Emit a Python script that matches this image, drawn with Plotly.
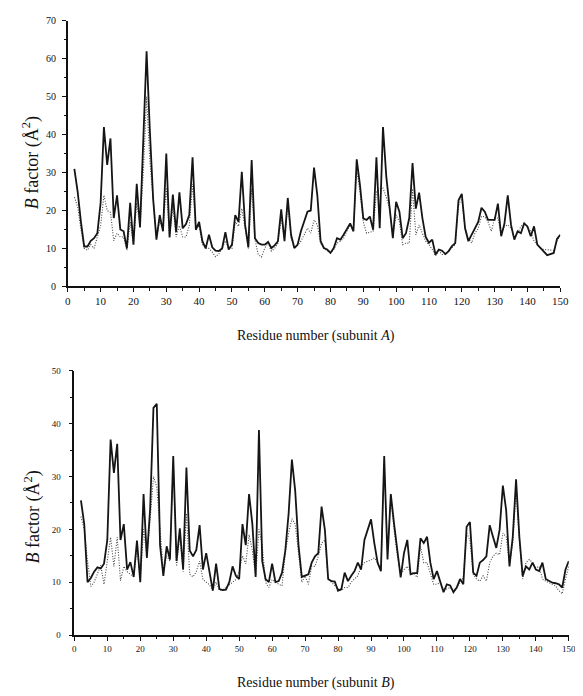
import plotly.graph_objects as go

residues = list(range(2, 151))

a_solid = [31, 25, 17, 10.5, 10.5, 12, 12.7, 14, 22,
           42, 32, 39, 18, 24, 15, 14.5, 10, 22, 11,
           27, 15.5, 40, 62, 41, 23, 12.3, 18.8, 14.5, 35,
           12.9, 24.2, 14.3, 24.8, 15.3, 16.4, 18.8, 34, 14.9, 17,
           11.9, 10, 13.6, 10.3, 9.4, 9.3, 10, 14.3, 9.7, 11,
           18.8, 17, 30.2, 16.2, 10.3, 33.3, 12.7, 11.4, 11, 11,
           11.7, 10.1, 10.8, 11.9, 20.3, 11.9, 23.3, 13.6, 10.1, 11,
           14.5, 17, 19.7, 20, 31.3, 24, 11.9, 10.1, 9.7, 8.8,
           10.1, 12.7, 12.3, 13.6, 15.3, 16.6, 14.5, 33.5, 26.6, 17.9,
           17.5, 18.4, 14.9, 34, 15.3, 42, 29, 21.4, 12.7, 22.3,
           19.7, 12.7, 14, 18, 32.5, 20.5, 24.7, 18, 13, 11.5,
           12.3, 8.4, 9.7, 9.4, 8.5, 9.3, 10.6, 11.4, 22.7, 24.4,
           15.3, 11.9, 13.6, 14.9, 17, 20.7, 19.7, 17.5, 17.5, 17.5,
           21.8, 13.2, 16.6, 24, 16.2, 12.3, 14.5, 14, 16.6, 15.8,
           13.2, 15.8, 11, 10.1, 9.3, 8.2, 8.5, 8.8, 12.5, 13.6]

a_dotted = [23.5, 21, 15, 10, 9.5, 11, 10, 13, 16,
            24, 20, 19.5, 12, 14, 13, 13, 9.5, 17, 11,
            22, 16, 30, 50, 33, 22, 13, 17, 15, 26,
            13, 21, 13, 16, 13, 13, 16, 27, 15, 16,
            11, 10, 10, 9, 7.8, 8.5, 10, 12, 10, 10,
            17, 15.8, 20.5, 15.3, 10, 25.7, 12.3, 8.4, 7.7, 10.1,
            11.4, 9.3, 10, 11.4, 18, 12.7, 21.4, 12.7, 10, 10.8,
            11.9, 13.6, 15.3, 14, 17.5, 16.2, 11.4, 10, 9.4, 8.8,
            9.7, 11.4, 11.9, 12.7, 14.5, 16.2, 14.9, 30.9, 24.8, 17,
            14, 14.3, 14.5, 24.8, 25.7, 25.9, 23.5, 20.5, 13.6, 18.8,
            17, 11, 11.4, 11.4, 25.7, 13.6, 16.2, 14, 11.9, 11,
            9.7, 8, 9.3, 8.4, 8.4, 9.3, 10.1, 11, 21.4, 23.1,
            15.3, 12.7, 11.4, 14, 15.3, 18.4, 18.4, 17, 14.5, 18,
            18, 13.6, 15.8, 16.2, 15.3, 12.7, 14, 15.8, 16.6, 15.5,
            14.5, 11.9, 11, 10.1, 9.7, 9.7, 9.5, 9.5, 11.9, 13.6]

b_solid = [25.5, 21, 10, 10.8, 12, 12.8, 12.6, 13.5, 18,
           37, 30.7, 36.2, 18, 21, 12.4, 13.8, 11, 17.9, 10,
           26.7, 14.6, 24, 43, 43.8, 17, 11.2, 16.8, 14.3, 33.9,
           14, 20.2, 12.4, 31.7, 16, 14.9, 16.1, 20.8, 12.4, 15.5,
           11.8, 8.4, 13.5, 8.7, 8.5, 8.6, 10, 13, 11.2, 10.6,
           21, 17, 26.7, 21, 11, 38.8, 14, 10.6, 10, 13.5,
           10, 10.2, 11.8, 16, 23, 33.2, 27.3, 17, 11, 11.3,
           11.5, 13.7, 14.9, 15.5, 24.3, 19.9, 10.6, 10.2, 10.1, 8.4,
           8.7, 11.8, 10.2, 11.2, 12.1, 13.7, 12.4, 18, 19.9, 21.9,
           17.4, 13.7, 12.1, 33.9, 14.3, 26.7, 21, 15.5, 10.9, 15.5,
           18, 11.5, 11.7, 11.7, 18.3, 17.4, 18.6, 13.7, 10.6, 12.1,
           10.2, 8.1, 9.6, 9.4, 8.1, 9, 10.6, 9.6, 20.5, 21.4,
           11.8, 11.2, 13.7, 14.2, 14.9, 20.8, 18.6, 16.5, 19.9, 28.3,
           23.6, 13, 18.6, 29.5, 18.6, 11.2, 13, 12.4, 13.7, 12.4,
           12.1, 13.7, 10.6, 10.2, 9.9, 9.8, 9.6, 9, 12.4, 14]

b_dotted = [22.4, 20, 14, 9.2, 10, 11.5, 13.2, 9.6, 14,
            18.5, 13, 18.5, 10.3, 13, 12, 11.5, 11, 16.8, 10.3,
            20, 15, 22, 30, 28, 20, 12, 15, 14, 33,
            13, 19, 12, 23, 11.5, 11, 12, 14, 10.5, 10,
            9.5, 8.5, 10, 8.5, 8.6, 9, 9.5, 10, 10.5, 12,
            15, 13.5, 19, 16, 11, 20, 17, 10, 9, 10.5,
            10, 9.6, 9.3, 15.5, 19.3, 22, 21, 16, 10, 11.2,
            9.6, 13, 13, 14.9, 17.4, 18, 10.6, 10, 9.3, 8.7,
            8.4, 9, 9, 10, 10.6, 11.2, 13, 13.7, 14, 14.2,
            14.6, 13.7, 12.4, 32.3, 16.1, 26, 19.9, 14.9, 11.5, 12.4,
            13, 11.8, 11.7, 10.9, 16.8, 13.7, 13.7, 11.8, 9.6, 9.6,
            10, 8.7, 8.7, 9, 8.4, 9, 10, 10.9, 19.3, 18,
            11.5, 10.6, 10.2, 11.2, 10.2, 13.7, 14.9, 15.5, 15.2, 19.3,
            18.6, 13.4, 17.4, 27.3, 18, 10.6, 13.7, 14.3, 13.7, 12.7,
            13, 10.6, 10.2, 9.9, 9.6, 9.3, 8.4, 7.8, 10.6, 13]

assert len(a_solid) == len(a_dotted) == len(b_solid) == len(b_dotted) == len(residues)

OFF = 8  # page body margin offset
W, H = 583 - OFF, 696
SERIF = "Liberation Serif, Times New Roman, serif"

fig = go.Figure()
fig.add_trace(go.Scatter(x=residues, y=a_dotted, mode="lines", xaxis="x", yaxis="y",
                         line=dict(color="#444444", width=1.1, dash="1px,1.6px"), showlegend=False))
fig.add_trace(go.Scatter(x=residues, y=a_solid, mode="lines", xaxis="x", yaxis="y",
                         line=dict(color="#151515", width=1.8), showlegend=False))
fig.add_trace(go.Scatter(x=residues, y=b_dotted, mode="lines", xaxis="x2", yaxis="y2",
                         line=dict(color="#444444", width=1.1, dash="1px,1.6px"), showlegend=False))
fig.add_trace(go.Scatter(x=residues, y=b_solid, mode="lines", xaxis="x2", yaxis="y2",
                         line=dict(color="#151515", width=1.8), showlegend=False))

def px_x(p):
    return (p - OFF) / W

def px_y(p):
    return 1 - (p - OFF) / H

common_axis = dict(showgrid=False, zeroline=False, showline=True, linecolor="#111111",
                   linewidth=1.5, ticks="outside", tickcolor="#111111", tickwidth=1.2,
                   ticklen=4)
minor_x = dict(tickvals=list(range(5, 150, 10)), ticks="outside", ticklen=2.5,
               tickcolor="#111111", tickwidth=1)

fig.update_layout(
    width=W, height=H,
    margin=dict(l=0, r=0, t=0, b=0),
    paper_bgcolor="white", plot_bgcolor="white",
    xaxis=dict(domain=[px_x(66), px_x(569)], range=[0, 150], anchor="y",
               tickvals=list(range(0, 151, 10)), minor=minor_x,
               tickfont=dict(family=SERIF, size=11, color="#111111"), **common_axis),
    yaxis=dict(domain=[px_y(285.7), px_y(16)], range=[0, 70], anchor="x",
               tickvals=list(range(0, 71, 10)), ticklabelstandoff=4,
               minor=dict(tickvals=list(range(5, 70, 10)), ticks="outside", ticklen=2.5,
                          tickcolor="#111111", tickwidth=1),
               tickfont=dict(family=SERIF, size=10, color="#111111"), **common_axis),
    xaxis2=dict(domain=[px_x(72.7), px_x(577.7)], range=[0, 150], anchor="y2",
                tickvals=list(range(0, 151, 10)), minor=minor_x,
                tickfont=dict(family=SERIF, size=9, color="#111111"), **common_axis),
    yaxis2=dict(domain=[px_y(640), px_y(371.7)], range=[0, 50], anchor="x2",
                tickvals=list(range(0, 51, 10)), ticklabelstandoff=6,
                minor=dict(tickvals=list(range(5, 50, 10)), ticks="outside", ticklen=2.5,
                           tickcolor="#111111", tickwidth=1),
                tickfont=dict(family=SERIF, size=9, color="#111111"), **common_axis),
)

xtitle_font = dict(family=SERIF, size=14, color="#111111")
ytitle_font = dict(family=SERIF, size=18, color="#111111")
# axis titles positioned relative to each axis' domain
fig.add_annotation(text="Residue number (subunit <i>A</i>)",
                   xref="x domain", yref="y domain",
                   x=(319 - 66) / 503, y=(285.7 - 336) / 269.7,
                   showarrow=False, font=xtitle_font, xanchor="center", yanchor="middle")
fig.add_annotation(text="<i>B</i> factor (Å<sup>2</sup>)",
                   xref="x domain", yref="y domain",
                   x=(28 - 66) / 503, y=(285.7 - 160) / 269.7,
                   showarrow=False, font=ytitle_font, textangle=-90,
                   xanchor="center", yanchor="middle")
fig.add_annotation(text="Residue number (subunit <i>B</i>)",
                   xref="x2 domain", yref="y2 domain",
                   x=(320 - 72.7) / 505, y=(640 - 689) / 268.3,
                   showarrow=False, font=xtitle_font, xanchor="center", yanchor="middle")
fig.add_annotation(text="<i>B</i> factor (Å<sup>2</sup>)",
                   xref="x2 domain", yref="y2 domain",
                   x=(30 - 72.7) / 505, y=(640 - 520) / 268.3,
                   showarrow=False, font=ytitle_font, textangle=-90,
                   xanchor="center", yanchor="middle")

fig.write_html("out.html")
